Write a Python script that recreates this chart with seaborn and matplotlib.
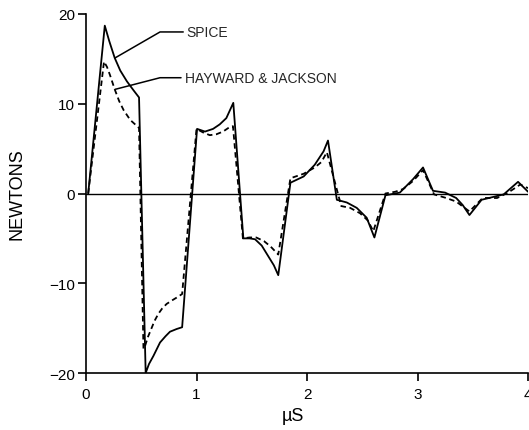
import pandas as pd
import numpy as np
import matplotlib
matplotlib.use('Agg')
import matplotlib.pyplot as plt
import seaborn as sns

# SPICE simulation (solid)
spice_t = [0.02, 0.17, 0.21, 0.26, 0.31, 0.37, 0.43, 0.48, 0.54, 0.57, 0.61,
           0.67, 0.72, 0.76, 0.82, 0.87, 1.005, 1.077, 1.15, 1.21, 1.27, 1.333,
           1.424, 1.48, 1.53, 1.59, 1.65, 1.70, 1.74, 1.85, 1.97, 2.07, 2.15,
           2.19, 2.27, 2.36, 2.45, 2.54, 2.61, 2.71, 2.84, 2.96, 3.05, 3.14,
           3.25, 3.35, 3.41, 3.47, 3.58, 3.78, 3.91, 4.0]
spice_f = [0.0, 18.7, 17.0, 15.1, 13.7, 12.5, 11.5, 10.7, -20.0, -19.0, -18.1,
           -16.6, -15.9, -15.4, -15.1, -14.9, 7.2, 6.9, 7.2, 7.7, 8.4, 10.1,
           -5.0, -5.0, -5.1, -5.8, -7.0, -8.0, -9.1, 1.2, 1.9, 3.2, 4.7,
           5.9, -0.7, -1.0, -1.6, -2.7, -4.9, -0.2, 0.1, 1.6, 2.9, 0.3,
           0.1, -0.5, -1.3, -2.4, -0.7, -0.1, 1.3, 0.2]

# Hayward & Jackson model (dashed)
hj_t = [0.02, 0.163, 0.19, 0.217, 0.26, 0.30, 0.34, 0.40, 0.48, 0.52, 0.534,
        0.56, 0.59, 0.62, 0.655, 0.69, 0.73, 0.78, 0.82, 0.87, 1.0, 1.06,
        1.12, 1.18, 1.24, 1.30, 1.33, 1.42, 1.48, 1.54, 1.61, 1.67, 1.74,
        1.85, 1.97, 2.07, 2.13, 2.18, 2.31, 2.39, 2.48, 2.55, 2.60, 2.71,
        2.80, 2.87, 2.96, 3.05, 3.15, 3.26, 3.35, 3.47, 3.59, 3.72, 3.82,
        3.93, 4.0]
hj_f = [0.0, 14.7, 14.1, 13.2, 11.6, 10.3, 9.3, 8.2, 7.3, -17.3, -17.0,
        -16.0, -15.1, -14.2, -13.4, -12.8, -12.3, -11.9, -11.6, -11.2, 7.2, 6.8,
        6.5, 6.6, 6.9, 7.4, 7.5, -5.0, -4.9, -4.9, -5.3, -5.9, -6.8,
        1.7, 2.2, 2.9, 3.5, 4.6, -1.4, -1.6, -2.2, -3.0, -4.2, 0.0,
        0.2, 0.5, 1.4, 2.6, -0.1, -0.5, -0.9, -2.0, -0.5, -0.5, 0.1,
        1.0, 0.6]

x_ticks = [0, 1, 2, 3, 4]
y_ticks = [-20, -10, 0, 10, 20]
y_tick_labels = ['\u221220', '\u221210', '0', '10', '20']

df = pd.concat([
    pd.DataFrame({'t': spice_t, 'F': spice_f, 'model': 'SPICE'}),
    pd.DataFrame({'t': hj_t, 'F': hj_f, 'model': 'HAYWARD & JACKSON'}),
], ignore_index=True)

sns.set_style('white')
plt.rcParams['font.family'] = ['Liberation Sans', 'DejaVu Sans']

fig = plt.figure(figsize=(5.29, 4.31), dpi=100)
ax = fig.add_axes([86 / 529, 57 / 431, 442 / 529, 359 / 431])

ax.axhline(0, color='black', lw=1.0, zorder=1)
sns.lineplot(data=df, x='t', y='F', style='model', ax=ax,
             dashes={'SPICE': '', 'HAYWARD & JACKSON': (3, 2)},
             color='black', linewidth=1.3, estimator=None, sort=False,
             legend=False)

ax.set_xlim(0, 4)
ax.set_ylim(-20, 20)
ax.set_xticks(x_ticks)
ax.set_yticks(y_ticks)
ax.set_yticklabels(y_tick_labels)
sns.despine(ax=ax)
for s in ['left', 'bottom']:
    ax.spines[s].set_color('black')
    ax.spines[s].set_linewidth(1.2)
ax.tick_params(axis='both', direction='out', color='black', width=1.2,
               labelsize=11, labelcolor='black', bottom=True, left=True)
ax.tick_params(axis='y', length=6, pad=2)
ax.tick_params(axis='x', length=6, pad=4)

ax.set_xlabel('\u00b5S', fontsize=13, color='black', va='top')
ax.xaxis.set_label_coords(0.468, -0.095)
ax.set_ylabel('NEWTONS', fontsize=13, color='black')
ax.yaxis.set_label_coords(-0.136, 0.5)

# curve labels with leader lines
ax.plot([0.262, 0.67, 0.88], [15.1, 18.0, 18.0], color='black', lw=1.1)
ax.text(0.91, 18.0, 'SPICE', fontsize=10, va='center', ha='left')
ax.plot([0.262, 0.67, 0.86], [11.6, 12.9, 12.9], color='black', lw=1.1)
ax.text(0.895, 12.9, 'HAYWARD & JACKSON', fontsize=10, va='center', ha='left')

fig.savefig('out.png', dpi=100)
